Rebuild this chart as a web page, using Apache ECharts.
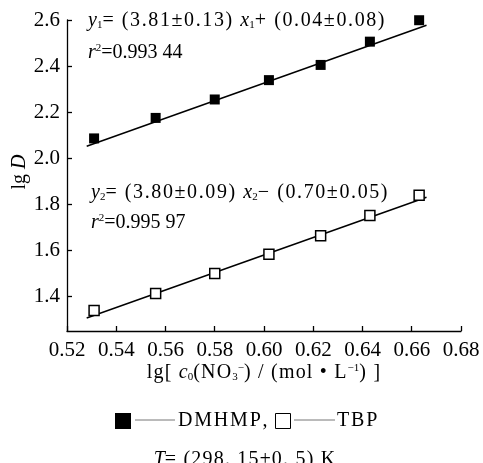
<!DOCTYPE html>
<html>
<head>
<meta charset="utf-8">
<script src="https://cdn.jsdelivr.net/npm/echarts@6/dist/echarts.min.js"></script>
<style>
  html, body { margin: 0; padding: 0; background: #fff; }
  #chart { width: 483px; height: 463px; }
</style>
</head>
<body>
<div id="chart"></div>
<script>
// Nitrate concentration, lg c0(NO3-)
const xValues = [0.531, 0.556, 0.580, 0.602, 0.623, 0.643, 0.663];
// lg D for each extractant
const dmhmpValues = [2.086, 2.175, 2.255, 2.339, 2.405, 2.506, 2.599];
const tbpValues = [1.339, 1.413, 1.500, 1.583, 1.663, 1.751, 1.839];
// Linear fits: y = slope * x + intercept
const fitSlopes = [3.81, 3.80];
const fitIntercepts = [0.04, -0.70];
const fitRange = [0.528, 0.666];
// Axis tick values
const xTicks = [0.52, 0.54, 0.56, 0.58, 0.60, 0.62, 0.64, 0.66, 0.68];
const yTicks = [1.4, 1.6, 1.8, 2.0, 2.2, 2.4, 2.6];

const SERIF = '"Liberation Serif", "Times New Roman", serif';
const FS = 20;

// Plain rich-text token
function t(style, s) {
  return '{' + style + '|' + s + '}';
}
// Letter-spaced run: one token per glyph, each padded on the right
function tr(style, s) {
  return Array.from(s).map(ch => '{' + style + '|' + ch + '}').join('');
}

function fitLine(i) {
  return fitRange.map(x => [x, fitSlopes[i] * x + fitIntercepts[i]]);
}

const rich = {
  n: { fontFamily: SERIF, fontSize: FS, color: '#000' },
  nt: { fontFamily: SERIF, fontSize: FS, color: '#000', padding: [0, 1.2, 0, 0] },
  et: { fontFamily: SERIF, fontSize: FS, color: '#000', padding: [0, 1.6, 0, 0] },
  lt: { fontFamily: SERIF, fontSize: FS, color: '#000', padding: [0, 1.8, 0, 0] },
  i: { fontFamily: SERIF, fontSize: FS, fontStyle: 'italic', color: '#000' },
  sub: { fontFamily: SERIF, fontSize: 11, color: '#000', verticalAlign: 'bottom', padding: [7, 0, 0, 0] },
  sup: { fontFamily: SERIF, fontSize: 11, color: '#000', verticalAlign: 'top', padding: [0, 0, 7, 0] }
};

function textEl(x, y, text, align, rotation) {
  return {
    type: 'text', x: x, y: y, rotation: rotation || 0,
    style: { text: text, rich: rich, fontFamily: SERIF, fontSize: FS, fill: '#000', verticalAlign: 'middle', align: align || 'left' }
  };
}

const chart = echarts.init(document.getElementById('chart'), null, { renderer: 'canvas' });

chart.setOption({
  animation: false,
  backgroundColor: '#fff',
  grid: { left: 67, right: 22, top: 20, bottom: 132 },
  xAxis: {
    type: 'value', min: 0.52, max: 0.68, interval: 0.02,
    axisLine: { lineStyle: { color: '#000', width: 1.3 } },
    axisTick: { inside: true, length: 5, lineStyle: { color: '#000', width: 1.3 } },
    axisLabel: {
      color: '#000', fontFamily: SERIF, fontSize: 21, margin: 9,
      customValues: xTicks, formatter: v => v.toFixed(2)
    },
    splitLine: { show: false }
  },
  yAxis: {
    type: 'value', min: 1.25, max: 2.6,
    axisLine: { show: true, lineStyle: { color: '#000', width: 1.3 } },
    axisTick: { show: true, inside: true, length: 5, customValues: yTicks, lineStyle: { color: '#000', width: 1.3 } },
    axisLabel: {
      color: '#000', fontFamily: SERIF, fontSize: 21, margin: 7,
      customValues: yTicks, formatter: v => v.toFixed(1)
    },
    splitLine: { show: false }
  },
  series: [
    {
      name: 'DMHMP fit', type: 'line', data: fitLine(0), symbol: 'none',
      lineStyle: { color: '#000', width: 1.5 }, z: 2
    },
    {
      name: 'TBP fit', type: 'line', data: fitLine(1), symbol: 'none',
      lineStyle: { color: '#000', width: 1.5 }, z: 2
    },
    {
      name: 'DMHMP', type: 'scatter', symbol: 'rect', symbolSize: 10,
      data: xValues.map((x, k) => [x, dmhmpValues[k]]),
      itemStyle: { color: '#000', opacity: 1 }, z: 3
    },
    {
      name: 'TBP', type: 'scatter', symbol: 'rect', symbolSize: 10,
      data: xValues.map((x, k) => [x, tbpValues[k]]),
      itemStyle: { color: '#fff', borderColor: '#000', borderWidth: 1.5, opacity: 1 }, z: 3
    }
  ],
  graphic: [
    // Fit equations
    textEl(88, 21, t('i', 'y') + t('sub', '1') + tr('et', '= (3.81±0.13) ') + t('i', 'x') + t('sub', '1') + tr('et', '+ (0.04±0.08)')),
    textEl(88, 53, t('i', 'r') + t('sup', '2') + t('n', '=0.993 44')),
    textEl(91, 193, t('i', 'y') + t('sub', '2') + tr('et', '= (3.80±0.09) ') + t('i', 'x') + t('sub', '2') + tr('et', '− (0.70±0.05)')),
    textEl(91, 223, t('i', 'r') + t('sup', '2') + t('n', '=0.995 97')),
    // Axis names
    textEl(20, 172, t('n', 'lg ') + t('i', 'D'), 'center', Math.PI / 2),
    textEl(264, 373, tr('nt', 'lg[ ') + t('i', 'c') + t('sub', '0') + tr('nt', '(NO') + t('sub', '3') + t('sup', '−') +
      tr('nt', ') / (mol • L') + t('sup', '−1') + tr('nt', ') ]'), 'center'),
    // Legend
    { type: 'rect', shape: { x: 115, y: 413, width: 16, height: 16 }, style: { fill: '#000' } },
    { type: 'line', shape: { x1: 135, y1: 420, x2: 175, y2: 420 }, style: { stroke: '#777', lineWidth: 1 } },
    textEl(178, 421, tr('lt', 'DMHMP,')),
    { type: 'rect', shape: { x: 275.5, y: 413.5, width: 15, height: 15 }, style: { fill: '#fff', stroke: '#000', lineWidth: 1 } },
    { type: 'line', shape: { x1: 294, y1: 420, x2: 335, y2: 420 }, style: { stroke: '#777', lineWidth: 1 } },
    textEl(337, 421, tr('lt', 'TBP')),
    // Temperature note
    textEl(245, 460, t('i', 'T') + tr('nt', '= (298. 15±0. 5) K'), 'center')
  ]
});
</script>
</body>
</html>
